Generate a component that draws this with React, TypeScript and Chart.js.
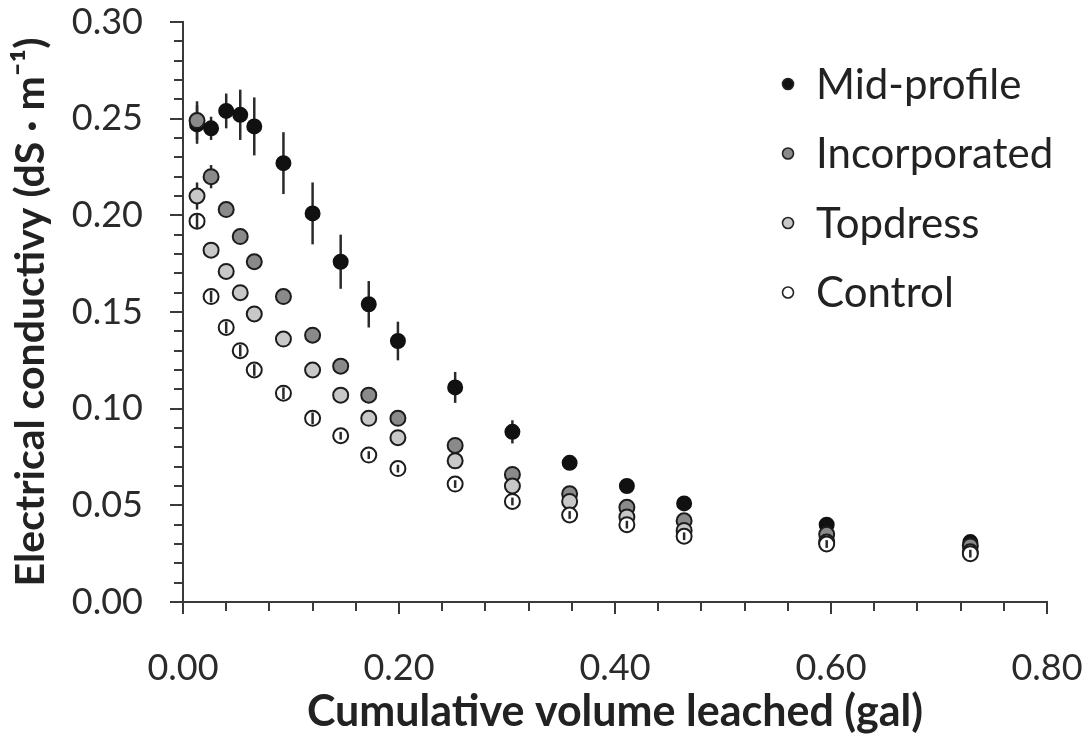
import React, { useEffect, useRef } from "react";
import { Chart, registerables } from "chart.js";

Chart.register(...registerables);

// Cumulative volume leached (gal)
const volumeLeached = [0.013, 0.026, 0.040, 0.053, 0.066, 0.093, 0.120, 0.146, 0.172, 0.199, 0.252, 0.305, 0.358, 0.411, 0.464, 0.596, 0.729];

// Electrical conductivity (dS/m) per treatment
const midProfile = [0.247, 0.245, 0.254, 0.252, 0.246, 0.227, 0.201, 0.176, 0.154, 0.135, 0.111, 0.088, 0.072, 0.060, 0.051, 0.040, 0.031];
const midProfileErr = [0.010, 0.006, 0.009, 0.013, 0.015, 0.016, 0.016, 0.014, 0.012, 0.010, 0.008, 0.006, 0.003, 0.002, 0.002, 0.002, 0.002];

const incorporated = [0.249, 0.220, 0.203, 0.189, 0.176, 0.158, 0.138, 0.122, 0.107, 0.095, 0.081, 0.066, 0.056, 0.049, 0.042, 0.035, 0.029];
const incorporatedErr = [0.010, 0.006, 0.003, 0.003, 0.003, 0.003, 0.003, 0.003, 0.002, 0.002, 0.002, 0.002, 0.002, 0.002, 0.002, 0.002, 0.002];

const topdress = [0.210, 0.182, 0.171, 0.160, 0.149, 0.136, 0.120, 0.107, 0.095, 0.085, 0.073, 0.060, 0.052, 0.044, 0.037, 0.031, 0.026];
const topdressErr = [0.007, 0.003, 0.003, 0.003, 0.003, 0.003, 0.003, 0.002, 0.002, 0.002, 0.002, 0.002, 0.002, 0.002, 0.002, 0.002, 0.002];

const control = [0.197, 0.158, 0.142, 0.130, 0.120, 0.108, 0.095, 0.086, 0.076, 0.069, 0.061, 0.052, 0.045, 0.040, 0.034, 0.030, 0.025];
const controlErr = [0.004, 0.003, 0.003, 0.003, 0.003, 0.003, 0.003, 0.002, 0.002, 0.002, 0.002, 0.002, 0.002, 0.002, 0.002, 0.002, 0.002];

const seriesNames = ["Mid-profile", "Incorporated", "Topdress", "Control"];
const seriesValues = [midProfile, incorporated, topdress, control];
const seriesErrors = [midProfileErr, incorporatedErr, topdressErr, controlErr];
const seriesFills = ["#111111", "#8a8a8a", "#c8c8c8", "#ffffff"];

const xTitle = "Cumulative volume leached (gal)";
const yTitle = "Electrical conductivy (dS \u00b7 m\u207b\u00b9)";

const FONT = "Lato, 'Open Sans', sans-serif";
const INK = "#222222";
const AXIS = "#3a3a3a";

function drawErrorBars(chart: any, which: (i: number) => boolean) {
  const ctx = chart.ctx;
  const yScale = chart.scales.y;
  ctx.save();
  ctx.strokeStyle = "#2a2a2a";
  ctx.lineWidth = 2.5;
  seriesErrors.forEach((errs, di) => {
    if (!which(di)) return;
    const meta = chart.getDatasetMeta(di);
    meta.data.forEach((pt: any, j: number) => {
      const v = seriesValues[di][j];
      const e = errs[j];
      const top = yScale.getPixelForValue(v + e);
      const bot = yScale.getPixelForValue(v - e);
      ctx.beginPath();
      ctx.moveTo(pt.x, top);
      ctx.lineTo(pt.x, bot);
      ctx.stroke();
    });
  });
  ctx.restore();
}

const decorPlugin = {
  id: "decor",
  beforeDatasetsDraw(chart: any) {
    drawErrorBars(chart, (i) => i !== 3);
  },
  afterDatasetsDraw(chart: any) {
    drawErrorBars(chart, (i) => i === 3);
    const ctx = chart.ctx;
    const xs = chart.scales.x;
    const ys = chart.scales.y;
    const area = chart.chartArea;
    ctx.save();
    ctx.strokeStyle = AXIS;
    ctx.lineWidth = 2;
    // y ticks (major every 0.05, minor every 0.01)
    for (let k = 0; k <= 30; k++) {
      const y = Math.round(ys.getPixelForValue(k / 100));
      const len = k % 5 === 0 ? 13 : 9;
      ctx.beginPath();
      ctx.moveTo(area.left - len, y);
      ctx.lineTo(area.left, y);
      ctx.stroke();
    }
    // x ticks (major every 0.20, minor every 0.04)
    for (let k = 0; k <= 20; k++) {
      const x = Math.round(xs.getPixelForValue(k * 0.04));
      const len = k % 5 === 0 ? 12 : 9;
      ctx.beginPath();
      ctx.moveTo(x, area.bottom);
      ctx.lineTo(x, area.bottom + len);
      ctx.stroke();
    }
    // legend inside plot area
    ctx.textAlign = "left";
    ctx.textBaseline = "middle";
    ctx.font = `42px ${FONT}`;
    seriesNames.forEach((name, i) => {
      const cy = 84 + i * 69.5;
      ctx.beginPath();
      ctx.arc(788, cy, 5.5, 0, Math.PI * 2);
      ctx.fillStyle = seriesFills[i];
      ctx.fill();
      ctx.lineWidth = 1.6;
      ctx.strokeStyle = INK;
      ctx.stroke();
      ctx.fillStyle = INK;
      ctx.fillText(name, 816, cy + 1);
    });
    ctx.restore();
  },
};

export default function App() {
  const ref = useRef<HTMLCanvasElement>(null);
  useEffect(() => {
    if (!ref.current) return;
    const datasets = seriesNames.map((name, i) => ({
      label: name,
      data: volumeLeached.map((x, j) => ({ x, y: seriesValues[i][j] })),
      backgroundColor: seriesFills[i],
      borderColor: i === 0 ? "#111111" : "#1c1c1c",
      pointBackgroundColor: seriesFills[i],
      pointBorderColor: i === 0 ? "#111111" : "#1c1c1c",
      pointBorderWidth: 2,
      pointRadius: i === 0 ? 7 : 7.5,
      showLine: false,
      order: 4 - i,
    }));
    const hiddenTicks = {
      display: true,
      drawOnChartArea: false,
      drawTicks: true,
      tickColor: "rgba(0,0,0,0)",
    };
    const chart = new Chart(ref.current, {
      type: "scatter",
      data: { datasets },
      options: {
        responsive: false,
        animation: false,
        events: [],
        layout: { padding: { left: 0, right: 43, top: 22, bottom: 0 } },
        plugins: { legend: { display: false }, tooltip: { enabled: false } },
        scales: {
          x: {
            type: "linear",
            min: 0,
            max: 0.8,
            afterFit: (s: any) => {
              s.height = 136;
            },
            grid: { ...hiddenTicks, tickLength: 45 },
            border: { display: true, color: AXIS, width: 2 },
            ticks: {
              stepSize: 0.2,
              padding: 0,
              color: "#2a2a2a",
              font: { family: FONT, size: 36 },
              callback: (v: any) => Number(v).toFixed(2),
              maxRotation: 0,
            },
            title: {
              display: true,
              text: xTitle,
              color: INK,
              font: { family: FONT, size: 43, weight: "bold" },
              padding: { top: 0, bottom: 0 },
            },
          },
          y: {
            type: "linear",
            min: 0,
            max: 0.3,
            afterFit: (s: any) => {
              s.width = 183;
            },
            grid: { ...hiddenTicks, tickLength: 40 },
            border: { display: true, color: AXIS, width: 2 },
            ticks: {
              stepSize: 0.05,
              padding: 0,
              color: "#2a2a2a",
              font: { family: FONT, size: 36 },
              callback: (v: any) => Number(v).toFixed(2),
            },
            title: {
              display: true,
              text: yTitle,
              color: INK,
              font: { family: FONT, size: 41, weight: "bold" },
              padding: { top: 6, bottom: 0 },
            },
          },
        },
      },
      plugins: [decorPlugin],
    });
    return () => chart.destroy();
  }, []);
  return (
    <div style={{ position: "fixed", left: 0, top: 0, width: 1090, height: 738, background: "#ffffff" }}>
      <canvas ref={ref} width={1090} height={738} style={{ display: "block" }} />
    </div>
  );
}
